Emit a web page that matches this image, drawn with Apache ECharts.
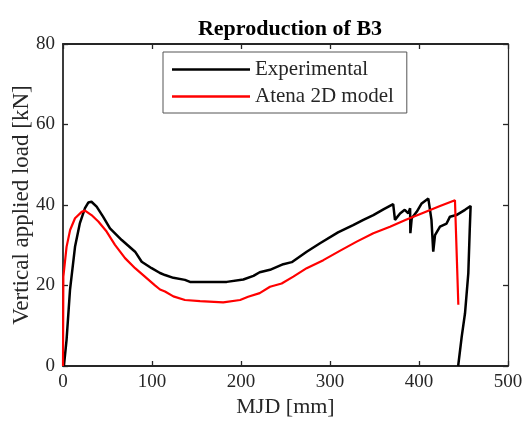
<!DOCTYPE html>
<html>
<head>
<meta charset="utf-8">
<script src="https://cdn.jsdelivr.net/npm/echarts@6/dist/echarts.min.js"></script>
<style>
  html, body { margin: 0; padding: 0; background: #fff; }
  #chart { width: 523px; height: 421px; }
</style>
</head>
<body>
<div id="chart"></div>
<script>
// Load–displacement curves for beam B3: [MJD (mm), load (kN)]
const experimental = [
  [1, 0], [4, 6.5], [7.9, 19], [13.5, 29.6], [19, 35.5], [24.7, 39.2], [28.4, 40.6],
  [32, 40.8], [37.8, 39.6], [45, 37.1], [52.8, 34.2], [66, 31.3], [81, 28.4],
  [88.4, 25.9], [99.6, 24.3], [109, 23.1], [114.6, 22.6], [124, 21.9], [137, 21.4],
  [142.7, 20.9], [184, 20.9], [202.6, 21.5], [214, 22.4], [221, 23.3], [232.6, 23.9],
  [247.5, 25.3], [257, 25.8], [273.8, 28.4], [288.8, 30.5], [309, 33.2], [326, 35],
  [337.5, 36.3], [348.7, 37.5], [360, 38.9], [371, 40.2], [373, 36.3], [378.7, 37.9],
  [384, 38.8], [388, 37.9], [390, 39.2], [390.3, 33], [391.8, 36.7], [397.4, 38.3],
  [403, 40.4], [410.5, 41.6], [412.4, 41.6], [414, 36.3], [416, 28.4], [418, 32.5],
  [423.6, 34.6], [431, 35.4], [434.8, 37.1], [442, 37.5], [451.7, 38.8], [458, 39.75],
  [457, 33.8], [455.4, 23], [451.7, 13.1], [448, 7.3], [444, 0]
];
const atena2D = [
  [0, 0], [0.4, 22.2], [4, 29.6], [8, 33.8], [13.5, 36.7], [21, 38.3], [24.7, 38.6],
  [32, 37.5], [39.7, 35.9], [49, 33.4], [58.4, 30.1], [69.7, 26.8], [81, 24.3],
  [92, 22.2], [103, 20.1], [109, 19], [114.6, 18.5], [124, 17.3], [137, 16.4],
  [154, 16.1], [180, 15.8], [199, 16.4], [208, 17.2], [221, 18.1], [232.6, 19.7],
  [245.7, 20.5], [258.8, 22.2], [273.8, 24.3], [292.5, 26.3], [311, 28.6], [330, 30.9],
  [348.7, 33], [367.4, 34.6], [386, 36.4], [405, 38.1], [423.6, 39.75], [440.4, 41.2],
  [444.2, 15.2]
];
const xTicks = { min: 0, max: 500, step: 100 };
const yTicks = { min: 0, max: 80, step: 20 };

const FONT = '"Liberation Serif", "Times New Roman", serif';
const INK = '#262626';

const chart = echarts.init(document.getElementById('chart'), null, { renderer: 'canvas' });

const axisLine = { show: true, onZero: false, lineStyle: { color: INK, width: 1.8 } };
const tickIn = { show: true, inside: true, length: 5, lineStyle: { color: INK, width: 1.3 } };

chart.setOption({
  animation: false,
  backgroundColor: '#ffffff',
  title: {
    text: 'Reproduction of B3',
    left: 285, top: 13, textAlign: 'center',
    textStyle: { fontFamily: FONT, fontWeight: 'bold', fontSize: 22, color: '#000' }
  },
  legend: {
    orient: 'vertical',
    left: 163, top: 52,
    padding: [7, 13, 6, 9],
    itemGap: 6,
    itemWidth: 78, itemHeight: 2.5,
    icon: 'rect',
    borderColor: '#555', borderWidth: 1,
    backgroundColor: '#fff',
    textStyle: { fontFamily: FONT, fontSize: 21, color: INK },
    data: ['Experimental', 'Atena 2D model']
  },
  grid: {
    left: 63, right: 15, top: 44, bottom: 55,
    containLabel: false, outerBoundsMode: 'none'
  },
  xAxis: [{
    type: 'value', min: xTicks.min, max: xTicks.max, interval: xTicks.step,
    name: 'MJD [mm]', nameLocation: 'middle', nameGap: 30, nameMoveOverlap: false,
    nameTextStyle: { fontFamily: FONT, fontSize: 22, color: INK },
    axisLine, axisTick: tickIn,
    axisLabel: { fontFamily: FONT, fontSize: 19, color: INK, margin: 7 },
    splitLine: { show: false }
  }, {
    type: 'value', position: 'top', min: xTicks.min, max: xTicks.max, interval: xTicks.step,
    axisLine, axisTick: tickIn, axisLabel: { show: false }, splitLine: { show: false }
  }],
  yAxis: [{
    type: 'value', min: yTicks.min, max: yTicks.max, interval: yTicks.step,
    name: 'Vertical applied load [kN]', nameLocation: 'middle', nameGap: 30, nameMoveOverlap: false,
    nameTextStyle: { fontFamily: FONT, fontSize: 23, color: INK },
    axisLine, axisTick: tickIn,
    axisLabel: { fontFamily: FONT, fontSize: 19, color: INK, margin: 8 },
    splitLine: { show: false }
  }, {
    type: 'value', position: 'right', min: yTicks.min, max: yTicks.max, interval: yTicks.step,
    axisLine: { show: true, onZero: false, lineStyle: { color: INK, width: 1.2 } },
    axisTick: tickIn, axisLabel: { show: false }, splitLine: { show: false }
  }],
  series: [{
    name: 'Experimental', type: 'line', data: experimental,
    showSymbol: false, symbol: 'none',
    lineStyle: { color: '#000', width: 2.5 }, itemStyle: { color: '#000' }
  }, {
    name: 'Atena 2D model', type: 'line', data: atena2D,
    showSymbol: false, symbol: 'none',
    lineStyle: { color: '#ff0000', width: 2.2 }, itemStyle: { color: '#ff0000' }
  }]
});
</script>
</body>
</html>
